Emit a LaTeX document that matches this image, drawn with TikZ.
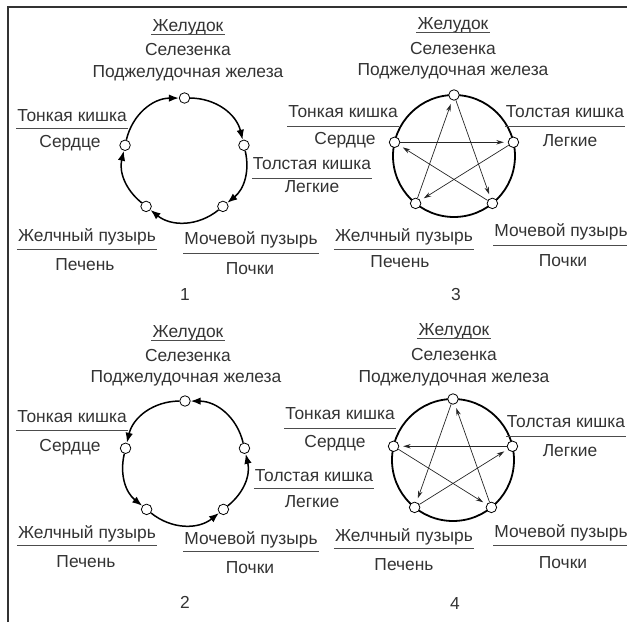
\documentclass[tikz,border=0pt]{standalone}
\usepackage{fontspec}
\setmainfont{Liberation Sans}
\usetikzlibrary{arrows.meta, positioning}

\begin{document}
\begin{tikzpicture}[x=1pt,y=1pt,font=\fontsize{17.4}{20}\selectfont]
\tikzstyle{organ}=[circle,draw=black,fill=white,line width=0.8pt,inner sep=0pt,minimum size=10.5pt]
\tikzstyle{ring}=[draw=black,line width=1.8pt]
\tikzstyle{flow}=[-{Latex[length=10pt,width=7.5pt]},line width=1.5pt]
\tikzstyle{ctrl}=[-{Stealth[length=7.5pt,width=4.5pt]},draw=black!85,line width=0.7pt,shorten >=4pt]
\tikzstyle{txt}=[anchor=base,inner sep=0pt,text=black!80]
\tikzstyle{rule}=[draw=black!70,line width=0.8pt]
\tikzset{head/.style={txt,inner xsep=1pt,
  append after command={([yshift=-#1]\tikzlastnode.base west) edge[rule] ([yshift=-#1]\tikzlastnode.base east)}},
  head/.default=7pt}

\useasboundingbox (0,0) rectangle (627,622);
\draw[line width=1.5pt,black!80] (8,0) -- (8,615) -- (627,615);

% 1
\begin{scope}[shift={(184.5,463)}]
\node[organ] (a0) at (90:61) {};
\node[organ] (a1) at (13:61) {};
\node[organ] (a2) at (-51:61) {};
\node[organ] (a3) at (231:61) {};
\node[organ] (a4) at (167:61) {};
\end{scope}
\path
  (a0) edge [flow,bend left=38] (a1)
  (a1) edge [flow,bend left=32] (a2)
  (a2) edge [flow,bend left=39] (a3)
  (a3) edge [flow,bend left=32] (a4)
  (a4) edge [flow,bend left=38] (a0);

\node[head=2pt] (l1a) at (188,590) {Желудок};
\node[txt] (l1b) at (188,566) {Селезенка};
\node[txt] (l1c) at (188,544) {Поджелудочная железа};
\node[head=6pt] (l1d) at (72,500) {Тонкая кишка};
\node[txt] (l1e) at (70,474) {Сердце};
\node[head=8pt] (l1f) at (312,452) {Толстая кишка};
\node[txt] (l1g) at (312,429) {Легкие};
\node[head] (l1h) at (87,380) {Желчный пузырь};
\node[txt] (l1i) at (85,351) {Печень};
\node[head=8pt] (l1j) at (251,377) {Мочевой пузырь};
\node[txt] (l1k) at (250,347) {Почки};
\node[txt] (n1) at (185,321) {1};

% 2
\begin{scope}[shift={(185,160)}]
\node[organ] (b0) at (90:61) {};
\node[organ] (b1) at (13:61) {};
\node[organ] (b2) at (-51:61) {};
\node[organ] (b3) at (231:61) {};
\node[organ] (b4) at (167:61) {};
\end{scope}
\path
  (b0) edge [flow,bend right=38] (b4)
  (b4) edge [flow,bend right=32] (b3)
  (b3) edge [flow,bend right=39] (b2)
  (b2) edge [flow,bend right=32] (b1)
  (b1) edge [flow,bend right=38] (b0);

\node[head=2pt] (l2a) at (188,284) {Желудок};
\node[txt] (l2b) at (188,260) {Селезенка};
\node[txt] (l2c) at (186,239) {Поджелудочная железа};
\node[head] (l2d) at (72,199) {Тонкая кишка};
\node[txt] (l2e) at (70,171) {Сердце};
\node[head=6pt] (l2f) at (314,140) {Толстая кишка};
\node[txt] (l2g) at (312,115) {Легкие};
\node[head] (l2h) at (87,84) {Желчный пузырь};
\node[txt] (l2i) at (86,55) {Печень};
\node[head] (l2j) at (251,78) {Мочевой пузырь};
\node[txt] (l2k) at (250,49) {Почки};
\node[txt] (n2) at (185,14) {2};

% 3
\begin{scope}[shift={(454,466)}]
\draw[ring] (0,0) circle (61);
\node[organ] (c0) at (90:61) {};
\node[organ] (c1) at (13:61) {};
\node[organ] (c2) at (-51:61) {};
\node[organ] (c3) at (231:61) {};
\node[organ] (c4) at (167:61) {};
\end{scope}
\path
  (c4) edge [ctrl] (c1)
  (c1) edge [ctrl] (c3)
  (c3) edge [ctrl] (c0)
  (c0) edge [ctrl] (c2)
  (c2) edge [ctrl] (c4);

\node[head=2pt] (l3a) at (453,592) {Желудок};
\node[txt] (l3b) at (453,567) {Селезенка};
\node[txt] (l3c) at (453,546) {Поджелудочная железа};
\node[head=8pt] (l3d) at (343,504) {Тонкая кишка};
\node[txt] (l3e) at (345,477) {Сердце};
\node[head=8pt] (l3f) at (565,504) {Толстая кишка};
\node[txt] (l3g) at (570,475) {Легкие};
\node[head] (l3h) at (404,380) {Желчный пузырь};
\node[txt] (l3i) at (400,354) {Печень};
\node[head=8pt] (l3j) at (561,385) {Мочевой пузырь};
\node[txt] (l3k) at (563,355) {Почки};
\node[txt] (n3) at (456,321) {3};

% 4
\begin{scope}[shift={(453,162)}]
\draw[ring] (0,0) circle (61);
\node[organ] (d0) at (90:61) {};
\node[organ] (d1) at (13:61) {};
\node[organ] (d2) at (-51:61) {};
\node[organ] (d3) at (231:61) {};
\node[organ] (d4) at (167:61) {};
\end{scope}
\path
  (d1) edge [ctrl] (d4)
  (d4) edge [ctrl] (d2)
  (d2) edge [ctrl] (d0)
  (d0) edge [ctrl] (d3)
  (d3) edge [ctrl] (d1);

\node[head=2pt] (l4a) at (454,286) {Желудок};
\node[txt] (l4b) at (454,261) {Селезенка};
\node[txt] (l4c) at (454,239) {Поджелудочная железа};
\node[head=8pt] (l4d) at (340,202) {Тонкая кишка};
\node[txt] (l4e) at (335,175) {Сердце};
\node[head=8pt] (l4f) at (566,194) {Толстая кишка};
\node[txt] (l4g) at (570,165) {Легкие};
\node[head] (l4h) at (404,81) {Желчный пузырь};
\node[txt] (l4i) at (404,52) {Печень};
\node[head=8pt] (l4j) at (561,85) {Мочевой пузырь};
\node[txt] (l4k) at (563,54) {Почки};
\node[txt] (n4) at (455,13) {4};
\end{tikzpicture}
\end{document}
